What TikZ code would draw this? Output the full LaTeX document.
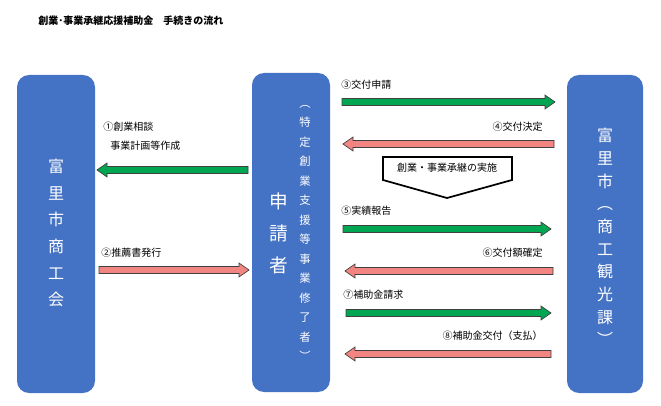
\documentclass[tikz,border=0pt]{standalone}
\usepackage{fontspec}
\setmainfont{Noto Sans CJK JP}
\definecolor{boxblue}{HTML}{4472C4}
\definecolor{agreen}{HTML}{00A651}
\definecolor{ared}{HTML}{F28482}
\newcommand\rarr[4]{\filldraw[fill=#4,draw=black!75,line width=0.5pt] (#1,#3-3.5)--(#2-10,#3-3.5)--(#2-10,#3-7)--(#2,#3)--(#2-10,#3+7)--(#2-10,#3+3.5)--(#1,#3+3.5)--cycle;}
\newcommand\larr[4]{\filldraw[fill=#4,draw=black!75,line width=0.5pt] (#2,#3-3.5)--(#1+10,#3-3.5)--(#1+10,#3-7)--(#1,#3)--(#1+10,#3+7)--(#1+10,#3+3.5)--(#2,#3+3.5)--cycle;}
\begin{document}
\begin{tikzpicture}[x=0.75pt,y=-0.75pt,
  bigbox/.style={fill=boxblue,rounded corners=9pt},
  vt/.style={text=white,align=center,font=\fontsize{12}{17}\selectfont},
  lbl/.style={font=\fontsize{7.5}{9}\selectfont,inner sep=0pt}]
\useasboundingbox (0,0) rectangle (661,406);
\node[lbl,font=\bfseries\fontsize{7.5}{9}\selectfont,anchor=west] (title) at (38,21) {創業･事業承継応援補助金\quad 手続きの流れ};
\fill[bigbox] (17,75) rectangle (95,393);
\fill[bigbox] (252,73) rectangle (330,392);
\fill[bigbox] (567,75) rectangle (643,393);
\node[vt,font=\fontsize{12}{20}\selectfont] (shoko) at (56,233) {富\\里\\市\\商\\工\\会};
\node[vt,font=\fontsize{14}{24}\selectfont] (shinsei) at (279,233) {申\\請\\者};
\node[vt,font=\fontsize{8.5}{14.6}\selectfont] (tokutei) at (305,233) {︵\\特\\定\\創\\業\\支\\援\\等\\事\\業\\修\\了\\者\\︶};
\node[vt,font=\fontsize{12}{17}\selectfont] (city) at (605,237) {富\\里\\市\\︵\\商\\工\\観\\光\\課\\︶};
% left side
\larr{97}{248}{170}{agreen}
\node[lbl,anchor=west] (l1) at (103,127) {①創業相談};
\node[lbl,anchor=west] (l1b) at (110,146) {事業計画等作成};
\rarr{99}{249}{270}{ared}
\node[lbl,anchor=west] (l2) at (101,253) {②推薦書発行};
% right side
\rarr{342}{555}{102}{agreen}
\node[lbl,anchor=west] (l3) at (341,85) {③交付申請};
\larr{343}{554}{144}{ared}
\node[lbl,anchor=east] (l4) at (543,127) {④交付決定};
\filldraw[fill=white,draw=black,line width=1.3pt] (383,157)--(512,157)--(512,180)--(447,198)--(383,180)--cycle;
\node[lbl] (jisshi) at (447,168) {創業・事業承継の実施};
\rarr{343}{551}{229}{agreen}
\node[lbl,anchor=west] (l5) at (341,211) {⑤実績報告};
\larr{345}{553}{271}{ared}
\node[lbl,anchor=east] (l6) at (543,253) {⑥交付額確定};
\rarr{346}{551}{313}{agreen}
\node[lbl,anchor=west] (l7) at (343,295) {⑦補助金請求};
\larr{345}{551}{354}{ared}
\node[lbl,anchor=east] (l8) at (543,336) {⑧補助金交付（支払）};
\end{tikzpicture}
\end{document}
